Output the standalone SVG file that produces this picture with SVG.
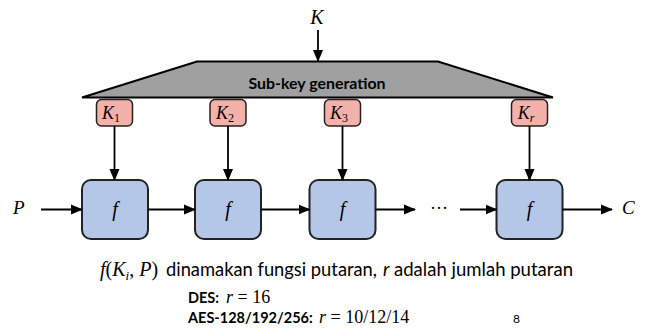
<svg xmlns="http://www.w3.org/2000/svg" width="646" height="336" viewBox="0 0 646 336">
<defs>
<marker id="ah" markerUnits="userSpaceOnUse" markerWidth="12" markerHeight="12" viewBox="0 0 12 12" refX="11" refY="6" orient="auto">
<path d="M0,1 L12,6 L0,11 Z" fill="#000"/>
</marker>
<style>
.key{fill:#f4b1aa;stroke:#222;stroke-width:1.5}
.fbox{fill:#b4c7e7;stroke:#222;stroke-width:2}
.math{font-family:"Liberation Serif",serif;font-style:italic;fill:#000}
.mathu{font-family:"Liberation Serif",serif;fill:#000}
.sans{font-family:Lato,"Open Sans","Liberation Sans",sans-serif;fill:#000}
.conn line{stroke:#000;stroke-width:1.8;marker-end:url(#ah)}
</style>
</defs>
<rect width="646" height="336" fill="#fff"/>

<g id="subkey">
<polygon points="197,61.5 438,61.5 553,97.5 82,97.5" fill="#a0a0a0" stroke="#000" stroke-width="2"/>
<text x="317" y="89" class="sans" font-size="15.5" font-weight="bold" text-anchor="middle" textLength="137" lengthAdjust="spacingAndGlyphs">Sub-key generation</text>
</g>

<g id="inputK"><text x="317" y="24" class="math" font-size="20" text-anchor="middle">K</text></g>
<g id="inputP"><text x="13" y="214" class="math" font-size="19">P</text></g>
<g id="outputC"><text x="622" y="214" class="math" font-size="19">C</text></g>

<g id="k1"><rect class="key" x="96.5" y="99.5" width="36" height="26.5" rx="5"/><text x="111" y="119" class="math" font-size="18" text-anchor="middle">K<tspan font-size="12" font-style="normal" dy="3">1</tspan></text></g>
<g id="k2"><rect class="key" x="210" y="99.5" width="36" height="26.5" rx="5"/><text x="225" y="119" class="math" font-size="18" text-anchor="middle">K<tspan font-size="12" font-style="normal" dy="3">2</tspan></text></g>
<g id="k3"><rect class="key" x="324.5" y="99.5" width="36" height="26.5" rx="5"/><text x="339" y="119" class="math" font-size="18" text-anchor="middle">K<tspan font-size="12" font-style="normal" dy="3">3</tspan></text></g>
<g id="kr"><rect class="key" x="511.5" y="99.5" width="36" height="26.5" rx="5"/><text x="526" y="119" class="math" font-size="18" text-anchor="middle">K<tspan font-size="12" dy="3">r</tspan></text></g>

<g id="f1"><rect class="fbox" x="82" y="180" width="66" height="59" rx="9"/><text x="115" y="216" class="math" font-size="20" text-anchor="middle">f</text></g>
<g id="f2"><rect class="fbox" x="195" y="180" width="66" height="59" rx="9"/><text x="228" y="216" class="math" font-size="20" text-anchor="middle">f</text></g>
<g id="f3"><rect class="fbox" x="309.5" y="180" width="66" height="59" rx="9"/><text x="342.5" y="216" class="math" font-size="20" text-anchor="middle">f</text></g>
<g id="f4"><rect class="fbox" x="496.5" y="180" width="66" height="59" rx="9"/><text x="529.5" y="216" class="math" font-size="20" text-anchor="middle">f</text></g>

<g id="ellipsis"><text x="439" y="214" class="mathu" font-size="18" text-anchor="middle">···</text></g>

<g id="connectors" class="conn">
<line x1="318" y1="30" x2="318" y2="61"/>
<line x1="114.5" y1="126" x2="114.5" y2="180"/>
<line x1="228" y1="126" x2="228" y2="180"/>
<line x1="342.5" y1="126" x2="342.5" y2="180"/>
<line x1="529.5" y1="126" x2="529.5" y2="180"/>
<line x1="41" y1="209.5" x2="82" y2="209.5"/>
<line x1="148" y1="209.5" x2="195" y2="209.5"/>
<line x1="261" y1="209.5" x2="309.5" y2="209.5"/>
<line x1="375.5" y1="209.5" x2="415" y2="209.5"/>
<line x1="460" y1="209.5" x2="496.5" y2="209.5"/>
<line x1="562.5" y1="209.5" x2="612" y2="209.5"/>
</g>

<g id="caption">
<text y="276" class="math" font-size="20"><tspan x="100">f</tspan><tspan font-style="normal">(</tspan>K<tspan font-size="13" dy="4">i</tspan><tspan dy="-4" font-style="normal">, </tspan>P<tspan font-style="normal">)</tspan></text>
<text x="166" y="276" class="sans" font-size="18.5" textLength="211" lengthAdjust="spacingAndGlyphs">dinamakan fungsi putaran,</text>
<text x="383" y="276" class="sans" font-size="18.5" font-style="italic">r</text>
<text x="394" y="276" class="sans" font-size="18.5" textLength="179" lengthAdjust="spacingAndGlyphs">adalah jumlah putaran</text>
</g>

<g id="notes">
<text x="188" y="303" class="sans" font-size="14.5" font-weight="bold">DES:</text>
<text x="226" y="303" class="math" font-size="18">r<tspan font-style="normal"> = 16</tspan></text>
<text x="188" y="323" class="sans" font-size="14.5" font-weight="bold">AES-128/192/256:</text>
<text x="319" y="323" class="math" font-size="18">r<tspan font-style="normal"> = 10/12/14</tspan></text>
<text x="513" y="323" class="sans" font-size="12">8</text>
</g>
</svg>
